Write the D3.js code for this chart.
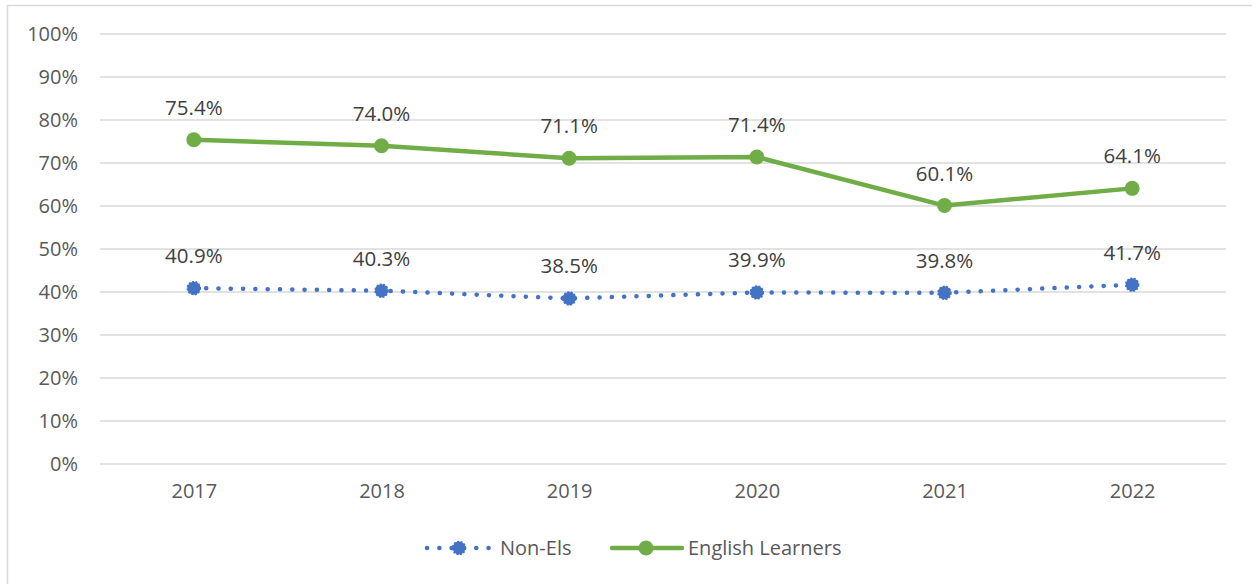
<!DOCTYPE html>
<html><head><meta charset="utf-8">
<script src="https://cdn.jsdelivr.net/npm/d3@7"></script>
<style>body{margin:0;background:#fff}svg{display:block}text{font-family:"Open Sans",sans-serif}</style>
</head><body><svg id="c" width="1252" height="584"></svg>
<script>
const years = ["2017","2018","2019","2020","2021","2022"];
const nonEls = [40.9, 40.3, 38.5, 39.9, 39.8, 41.7];
const englishLearners = [75.4, 74.0, 71.1, 71.4, 60.1, 64.1];
const yTicks = [0,10,20,30,40,50,60,70,80,90,100];
const seriesNames = ["Non-Els","English Learners"];
const colors = ["#4472C4","#70AD47"];

const svg = d3.select("#c");
svg.append("rect").attr("x",7.5).attr("y",5.5).attr("width",1260).attr("height",600)
  .attr("fill","#fff").attr("stroke","#d9d9d9").attr("stroke-width",1.5);

const L=100,R=1226,T=34,B=464;
const x = d3.scalePoint().domain(years).range([L,R]).padding(0.5);
const y = d3.scaleLinear().domain([0,100]).range([B,T]);

const grid = svg.append("g");
grid.selectAll("line").data(yTicks).join("line")
  .attr("x1",L).attr("x2",R).attr("y1",d=>y(d)).attr("y2",d=>y(d))
  .attr("stroke","#d9d9d9").attr("stroke-width",1.5);

const yAxis = svg.append("g").attr("transform",`translate(${L},0)`)
  .call(d3.axisLeft(y).tickValues(yTicks).tickFormat(d=>d+"%").tickSize(0).tickPadding(22));
yAxis.select(".domain").remove();
yAxis.selectAll("text").attr("fill","#595959").attr("font-size",20).style("font-family","'Open Sans',sans-serif");

const xAxis = svg.append("g").attr("transform",`translate(0,${B})`)
  .call(d3.axisBottom(x).tickSize(0).tickPadding(20));
xAxis.select(".domain").remove();
xAxis.selectAll("text").attr("fill","#595959").attr("font-size",20).style("font-family","'Open Sans',sans-serif");

const line = d3.line().x((d,i)=>x(years[i])).y(d=>y(d));

// Non-Els
svg.append("path").datum(nonEls).attr("d",line).attr("fill","none")
  .attr("stroke",colors[0]).attr("stroke-width",4.5).attr("stroke-linecap","round")
  .attr("stroke-dasharray","0.1,12.2");
svg.append("g").selectAll("circle").data(nonEls).join("circle")
  .attr("cx",(d,i)=>x(years[i])).attr("cy",d=>y(d)).attr("r",6.5).attr("fill",colors[0])
  .attr("stroke",colors[0]).attr("stroke-width",1.5).attr("stroke-dasharray","2,1.5");

// English Learners
svg.append("path").datum(englishLearners).attr("d",line).attr("fill","none")
  .attr("stroke",colors[1]).attr("stroke-width",4.5).attr("stroke-linejoin","round");
svg.append("g").selectAll("circle").data(englishLearners).join("circle")
  .attr("cx",(d,i)=>x(years[i])).attr("cy",d=>y(d)).attr("r",7.5).attr("fill",colors[1]);

// labels
[nonEls, englishLearners].forEach(s=>{
  svg.append("g").selectAll("text").data(s).join("text")
    .attr("x",(d,i)=>x(years[i])).attr("y",d=>y(d)-25)
    .attr("text-anchor","middle").attr("fill","#404040").attr("font-size",20.5)
    .text(d=>d.toFixed(1)+"%");
});

// legend
const ly=548;
const lg = svg.append("g");
lg.append("line").attr("x1",427).attr("x2",490).attr("y1",ly).attr("y2",ly)
  .attr("stroke",colors[0]).attr("stroke-width",4.5).attr("stroke-linecap","round").attr("stroke-dasharray","0.1,12.2");
lg.append("circle").attr("cx",459).attr("cy",ly).attr("r",6.5).attr("fill",colors[0])
  .attr("stroke",colors[0]).attr("stroke-width",1.5).attr("stroke-dasharray","2,1.5");
lg.append("text").attr("x",500).attr("y",ly).attr("dy","0.35em").attr("fill","#595959").attr("font-size",20).text(seriesNames[0]);
lg.append("line").attr("x1",612).attr("x2",682).attr("y1",ly).attr("y2",ly)
  .attr("stroke",colors[1]).attr("stroke-width",4.5).attr("stroke-linecap","round");
lg.append("circle").attr("cx",646).attr("cy",ly).attr("r",7.5).attr("fill",colors[1]);
lg.append("text").attr("x",688).attr("y",ly).attr("dy","0.35em").attr("fill","#595959").attr("font-size",20).text(seriesNames[1]);
</script></body></html>
